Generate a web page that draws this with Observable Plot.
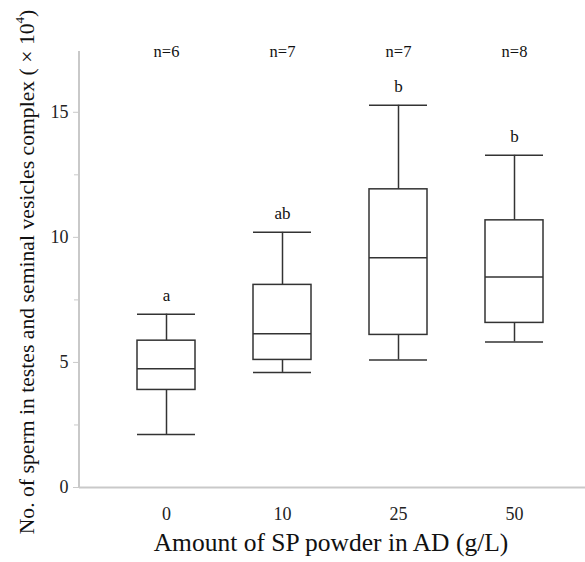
<!DOCTYPE html>
<html>
<head>
<meta charset="utf-8">
<script src="https://cdn.jsdelivr.net/npm/d3@7"></script>
<script src="https://cdn.jsdelivr.net/npm/@observablehq/plot@0.6"></script>
<style>
  html, body { margin: 0; padding: 0; background: #fff; }
  #chart svg, #chart svg text { font-family: "Liberation Serif", "Times New Roman", "DejaVu Serif", serif !important; }
</style>
</head>
<body>
<div id="chart"></div>
<script>
const categories = ["0", "10", "25", "50"];
const whiskerLow = [2.12, 4.6, 5.1, 5.82];
const q1 = [3.9, 5.1, 6.1, 6.58];
const median = [4.75, 6.15, 9.18, 8.42];
const q3 = [5.87, 8.1, 11.92, 10.68];
const whiskerHigh = [6.93, 10.2, 15.28, 13.28];
const nLabels = ["n=6", "n=7", "n=7", "n=8"];
const letters = ["a", "ab", "b", "b"];
const yTicks = [0, 5, 10, 15];
const yMinorTicks = [2.5, 7.5, 12.5];

const data = categories.map((c, i) => ({
  cat: c, lo: whiskerLow[i], q1: q1[i], med: median[i], q3: q3[i], hi: whiskerHigh[i],
  n: nLabels[i], letter: letters[i]
}));

const boxColor = "#333";
const axisColor = "#c9c9c9";

const plot = Plot.plot({
  width: 585,
  height: 562,
  marginLeft: 79,
  marginRight: 0,
  marginTop: 51,
  marginBottom: 75,
  style: { background: "#fff" },
  x: { type: "band", domain: categories, range: [79, 601], padding: 0.5, align: 0.5, axis: null },
  y: { domain: [0, 17.43], range: [487, 51], axis: null },
  marks: [
    Plot.ruleY([0], { stroke: axisColor, strokeWidth: 2 }),
    // whiskers
    Plot.ruleX(data, { x: "cat", y1: "lo", y2: "q1", stroke: boxColor, strokeWidth: 1.5 }),
    Plot.ruleX(data, { x: "cat", y1: "q3", y2: "hi", stroke: boxColor, strokeWidth: 1.5 }),
    Plot.tickY(data, { x: "cat", y: "lo", stroke: boxColor, strokeWidth: 1.5 }),
    Plot.tickY(data, { x: "cat", y: "hi", stroke: boxColor, strokeWidth: 1.5 }),
    // boxes
    Plot.barY(data, { x: "cat", y1: "q1", y2: "q3", fill: "white", stroke: boxColor, strokeWidth: 1.5 }),
    Plot.tickY(data, { x: "cat", y: "med", stroke: boxColor, strokeWidth: 1.5 }),
    // significance letters
    Plot.text(data, { x: "cat", y: "hi", text: "letter", dy: -19, fontSize: 17, fill: "#111" }),
    // n labels
    Plot.text(data, { x: "cat", text: "n", frameAnchor: "top", dy: -6, fontSize: 16.5, fill: "#111" }),
    // y axis
    Plot.axisY(yTicks, { anchor: "left", tickSize: 6, tickPadding: 5, stroke: axisColor, fontSize: 18, fill: "#222", label: null }),
    Plot.axisY(yMinorTicks, { anchor: "left", tickSize: 5, stroke: axisColor, text: null, label: null }),
    // x axis labels
    Plot.axisX(categories, { anchor: "bottom", tickSize: 0, tickPadding: 20, fontSize: 18, fill: "#222", label: null }),
  ]
});

const svg = d3.select(plot);
svg.attr("font-family", '"Liberation Serif", "Times New Roman", serif');
svg.append("line")
  .attr("x1", 79).attr("x2", 79).attr("y1", 51).attr("y2", 487)
  .attr("stroke", axisColor).attr("stroke-width", 2);

svg.append("text")
  .attr("transform", "translate(27,272) rotate(-90)")
  .attr("text-anchor", "middle")
  .attr("dominant-baseline", "central")
  .attr("font-size", 21.7)
  .attr("fill", "#111")
  .html('No. of sperm in testes and seminal vesicles complex ( × 10<tspan dy="-8" font-size="13">4</tspan><tspan dy="8">)</tspan>');

svg.append("text")
  .attr("x", 331).attr("y", 551)
  .attr("text-anchor", "middle")
  .attr("font-size", 25.5)
  .attr("fill", "#111")
  .text("Amount of SP powder in AD (g/L)");

document.getElementById("chart").appendChild(plot);
</script>
</body>
</html>
